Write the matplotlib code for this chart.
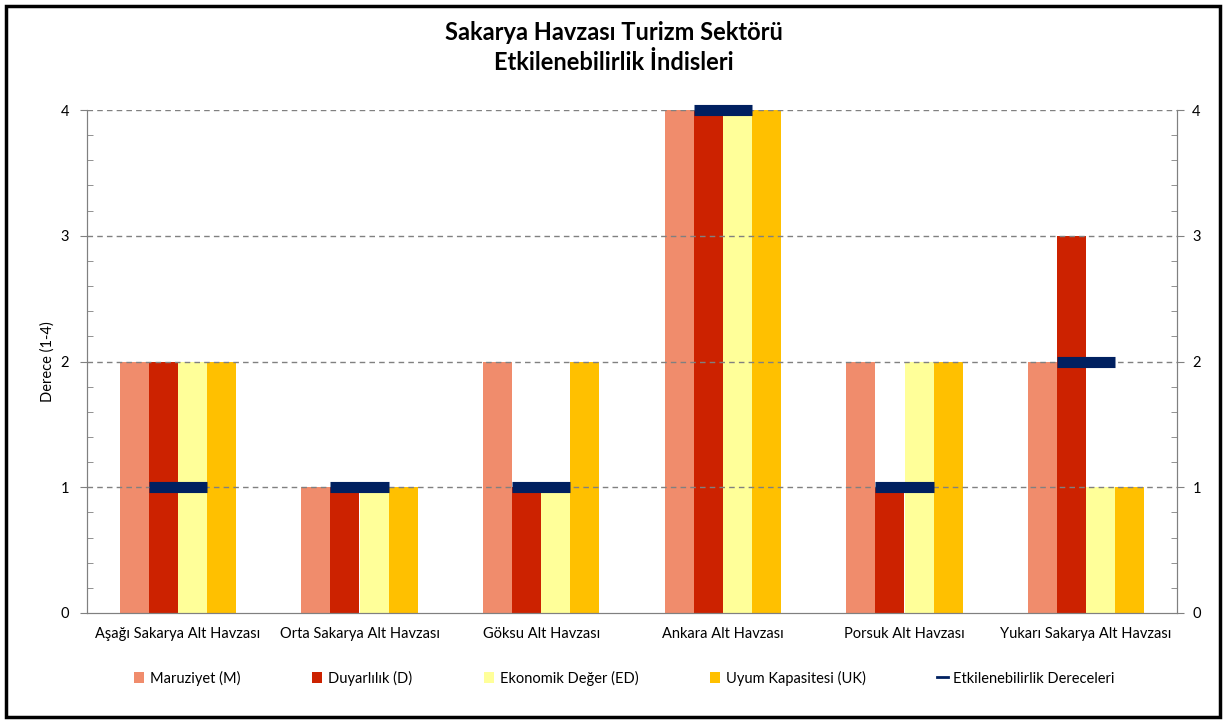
import numpy as np
import matplotlib.pyplot as plt
from matplotlib.patches import Rectangle
from matplotlib.ticker import MultipleLocator

plt.rcParams['font.family'] = ['Lato', 'DejaVu Sans']

havzalar = ["Aşağı Sakarya Alt Havzası", "Orta Sakarya Alt Havzası", "Göksu Alt Havzası",
            "Ankara Alt Havzası", "Porsuk Alt Havzası", "Yukarı Sakarya Alt Havzası"]
maruziyet = [2, 1, 2, 4, 2, 2]
duyarlilik = [2, 1, 1, 4, 1, 3]
ekonomik = [2, 1, 1, 4, 2, 1]
uyum = [2, 1, 2, 4, 2, 1]
etkilenebilirlik = [1, 1, 1, 4, 1, 2]

seriler = [("Maruziyet (M)", maruziyet, "#F08C6C"),
           ("Duyarlılık (D)", duyarlilik, "#CC2200"),
           ("Ekonomik Değer (ED)", ekonomik, "#FFFF99"),
           ("Uyum Kapasitesi (UK)", uyum, "#FFC000")]


def main():
    fig = plt.figure(figsize=(12.27, 7.22), dpi=100)
    ax = fig.add_axes([87 / 1227, 1 - 613 / 722, 1090 / 1227, 503 / 722])
    x = np.arange(len(havzalar))
    w = 0.16

    for i, (ad, vals, renk) in enumerate(seriler):
        ax.bar(x + (i - 1.5) * w, vals, w, color=renk, label=ad, zorder=2)

    ax.plot([], [], color="#002060", linewidth=2, label="Etkilenebilirlik Dereceleri")

    ax.set_xlim(-0.5, len(havzalar) - 0.5)
    ax.set_ylim(0, 4)
    ax.set_yticks([0, 1, 2, 3, 4])
    ax.yaxis.set_minor_locator(MultipleLocator(0.2))
    for yv in [1, 2, 3, 4]:
        ax.axhline(yv, color="#808080", linestyle=(0, (4, 3)), linewidth=1, zorder=3)
    ax.set_xticks(x)
    ax.set_xticklabels(havzalar, fontsize=10.5)
    ax.tick_params(axis='x', length=0, pad=10)
    ax.tick_params(axis='y', which='major', direction='out', length=5, color="#808080",
                   labelsize=10.5, pad=8)
    ax.tick_params(axis='y', which='minor', direction='in', length=4, color="#808080")
    ax.spines['top'].set_visible(False)
    for s in ['left', 'right', 'bottom']:
        ax.spines[s].set_color("#808080")
    ax.set_ylabel("Derece (1-4)", fontsize=10.5, labelpad=4)

    ax2 = ax.twinx()
    ax2.set_ylim(0, 4)
    ax2.set_yticks([0, 1, 2, 3, 4])
    ax2.yaxis.set_minor_locator(MultipleLocator(0.2))
    ax2.tick_params(axis='y', which='major', direction='out', length=5, color="#808080",
                    labelsize=10.5, pad=6)
    ax2.tick_params(axis='y', which='minor', direction='in', length=4, color="#808080")
    ax2.spines['top'].set_visible(False)
    for s in ['left', 'right', 'bottom']:
        ax2.spines[s].set_color("#808080")
    ax2.hlines(etkilenebilirlik, x - w, x + w, color="#002060", linewidth=8, zorder=4,
               clip_on=False)

    fig.text(0.5, 1 - 32 / 722, "Sakarya Havzası Turizm Sektörü", ha='center', va='center',
             fontsize=17, fontweight='bold')
    fig.text(0.5, 1 - 62 / 722, "Etkilenebilirlik İndisleri", ha='center', va='center',
             fontsize=17, fontweight='bold')

    h, l = ax.get_legend_handles_labels()
    order = [1, 2, 3, 4, 0]
    fig.legend([h[i] for i in order], [l[i] for i in order], loc='center',
               bbox_to_anchor=(0.509, 1 - 678 / 722), ncol=5, frameon=False, fontsize=10.5,
               handlelength=0.7, handleheight=0.7, handletextpad=0.4, columnspacing=4.9)

    fig.patches.append(Rectangle((6 / 1227, 1 - 717 / 722), 1214 / 1227, 711 / 722,
                                 transform=fig.transFigure, fill=False, edgecolor='black',
                                 linewidth=2.5))
    fig.savefig("out.png", dpi=100)


if __name__ == '__main__':
    main()
